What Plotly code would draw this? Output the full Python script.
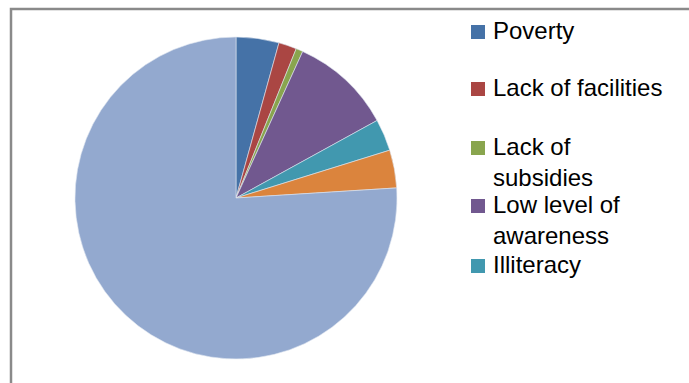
import plotly.graph_objects as go

labels = ["Poverty", "Lack of facilities", "Lack of subsidies", "Low level of awareness",
          "Illiteracy", "Other", "None"]
values = [4.3, 1.8, 0.7, 10.2, 3.2, 3.8, 76.0]
colors = ["#4572A7", "#AA4643", "#89A54E", "#71588F", "#4198AF", "#DB843D", "#93A9CF"]
legend_text = ["Poverty", "Lack of facilities", "Lack of<br>subsidies", "Low level of<br>awareness", "Illiteracy"]

W, H = 689, 383
fig = go.Figure()
fig.add_trace(go.Pie(
    labels=labels, values=values, sort=False, direction="clockwise", rotation=0,
    marker=dict(colors=colors, line=dict(color="#dfe6f0", width=0.6)),
    textinfo="none", hoverinfo="label+percent", showlegend=False,
    domain=dict(x=[75 / W, 397 / W], y=[(H - 359) / H, (H - 37) / H]),
))

shapes = [dict(type="rect", xref="paper", yref="paper",
               x0=11 / W, x1=1.2, y0=-0.2, y1=(H - 9) / H,
               line=dict(color="#8a8a8a", width=2.5), fillcolor="rgba(0,0,0,0)", layer="below")]
annotations = []
ys = [32, 89, 148, 206, 266]
for i, (t, y) in enumerate(zip(legend_text, ys)):
    shapes.append(dict(type="rect", xref="paper", yref="paper",
                       x0=471 / W, x1=485 / W, y0=(H - y - 7) / H, y1=(H - y + 7) / H,
                       fillcolor=colors[i], line=dict(width=0)))
    annotations.append(dict(xref="paper", yref="paper", x=491 / W, y=(H - y + 17) / H,
                            xanchor="left", yanchor="top", text=t, showarrow=False, align="left",
                            font=dict(family="Liberation Sans, Arial", size=24, color="#000"),
                            ))

fig.update_layout(width=W, height=H, margin=dict(l=0, r=0, t=0, b=0),
                  paper_bgcolor="white", plot_bgcolor="white",
                  shapes=shapes, annotations=annotations)
fig.write_html("out.html")
